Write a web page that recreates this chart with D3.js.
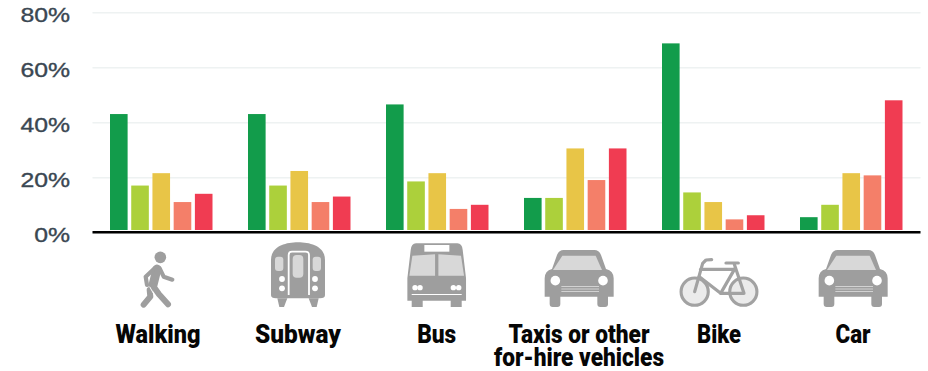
<!DOCTYPE html>
<html><head><meta charset="utf-8">
<script src="https://cdn.jsdelivr.net/npm/d3@7"></script>
<style>html,body{margin:0;padding:0;background:#fff}svg{display:block}</style>
</head><body><svg id="c" width="928" height="371"></svg>
<script>
const categories = ["Walking","Subway","Bus","Taxis or other for-hire vehicles","Bike","Car"];
const series = ["s1","s2","s3","s4","s5"];
const s1 = [43,43,46.5,12.5,68.7,5.5];
const s2 = [17,17,18.5,12.5,14.5,10];
const s3 = [21.5,22.3,21.5,30.5,11,21.5];
const s4 = [11,11,8.5,19,4.7,20.7];
const s5 = [14,13,10,30.5,6.2,48];
const seriesValues = [s1,s2,s3,s4,s5];
const colors = ["#129c4b","#acd03b","#e8c547","#f47f69","#f03c52"];
const yTicks = [0,20,40,60,80];
const labelLines = [["Walking"],["Subway"],["Bus"],["Taxis or other","for-hire vehicles"],["Bike"],["Car"]];
const labelWidths = [[85],[86],[39],[141,170],[44],[35]];
const iconCenters = [158,298,436.7,579,719,853];
const iconKinds = ["walk","subway","bus","car","bike","car"];

const svg = d3.select("#c");
const y = d3.scaleLinear().domain([0,80]).range([232.3,12.3]);
const x0 = d3.scaleBand().domain(categories).range([92.5,920.5]);
const x1 = d3.scaleBand().domain(series).range([17.5,120]).paddingInner(0.17);
const labelX = d3.scaleOrdinal().domain(categories).range(iconCenters);

const axis = svg.append("g").attr("transform","translate(92.5,0)")
  .call(d3.axisLeft(y).tickValues(yTicks).tickFormat(d=>d+"%").tickSize(-828));
axis.select(".domain").remove();
axis.selectAll("line").attr("stroke","#eef2f2").attr("stroke-width",1.5);
axis.selectAll("text")
  .attr("x",0).attr("dy",0)
  .attr("transform","translate(-22.5,9.4) scale(1.24,1)")
  .attr("text-anchor","end")
  .attr("fill","#3a4752").attr("stroke","#3a4752").attr("stroke-width",0.35)
  .style("font-family","'Liberation Sans',sans-serif").style("font-size","20px");

const groups = svg.append("g").selectAll("g").data(categories).join("g")
  .attr("transform",d=>`translate(${x0(d)},0)`);
groups.selectAll("rect")
  .data((d,i)=>series.map((s,j)=>({s,v:seriesValues[j][i],c:colors[j]})))
  .join("rect")
  .attr("x",d=>x1(d.s)).attr("width",x1.bandwidth())
  .attr("y",d=>y(d.v)).attr("height",d=>y(0)-2.3-y(d.v))
  .attr("fill",d=>d.c);

svg.append("line").attr("x1",92.5).attr("x2",920.5).attr("y1",y(0)).attr("y2",y(0))
  .attr("stroke","#000").attr("stroke-width",2.6);

// labels
const lab = svg.append("g").selectAll("g").data(categories).join("g")
  .attr("transform",d=>`translate(${labelX(d)},0)`);
lab.each(function(d,i){
  labelLines[i].forEach((t,k)=>{
    d3.select(this).append("text").text(t)
      .attr("y",343+k*23.2).attr("text-anchor","middle")
      .attr("textLength",labelWidths[i][k]).attr("lengthAdjust","spacingAndGlyphs")
      .attr("fill","#060606")
      .style("font-family","Roboto,sans-serif").style("font-weight",900).style("font-size","25px");
  });
});

// icons: each drawn around its own centre
const G="#9e9e9e", L="#d8d8d8", W="#fff";
const Y=z=>235+z/3;
const icons = {
 walk(g){
  const X=z=>(z-175)/3;
  const pl=(pts,w)=>g.append("path").attr("d",d3.line().x(p=>X(p[0])).y(p=>Y(p[1]))(pts))
    .attr("fill","none").attr("stroke",G).attr("stroke-width",w).attr("stroke-linecap","round").attr("stroke-linejoin","round");
  g.append("circle").attr("cx",X(182)).attr("cy",Y(67)).attr("r",5.8).attr("fill",G);
  pl([[172,102],[160,150]],9);
  pl([[165,100],[138,125],[142,150]],4.2);
  pl([[180,100],[192,125],[218,134]],4.2);
  pl([[162,155],[178,178],[205,208]],6);
  pl([[150,165],[152,185],[132,209]],6);
  g.append("path").attr("d",`M${X(150)},${Y(155)}L${X(165)},${Y(182)}`).attr("stroke",W).attr("stroke-width",1);
 },
 subway(g){
  const X=z=>(z-594)/3;
  const r=(a,b,c,d,f,rx=0)=>g.append("rect").attr("x",X(a)).attr("y",Y(b)).attr("width",(c-a)/3).attr("height",(d-b)/3).attr("fill",f).attr("rx",rx);
  const p=d3.path();
  p.moveTo(X(513),Y(180));p.lineTo(X(513),Y(75));
  p.bezierCurveTo(X(513),Y(35),X(555),Y(22),X(594),Y(22));
  p.bezierCurveTo(X(633),Y(22),X(675),Y(35),X(675),Y(75));
  p.lineTo(X(675),Y(180));p.quadraticCurveTo(X(675),Y(190),X(660),Y(190));
  p.lineTo(X(528),Y(190));p.quadraticCurveTo(X(513),Y(190),X(513),Y(180));p.closePath();
  g.append("path").attr("d",p.toString()).attr("fill",G);
  const leg=(a,b,c,d)=>g.append("path").attr("d",`M${X(a)},${Y(190)}L${X(b)},${Y(190)}L${X(c)},${Y(216)}L${X(d)},${Y(216)}Z`).attr("fill",G);
  leg(532,562,552,538);leg(626,656,650,636);
  r(525,65,550,108,L,3);r(638,65,663,108,L,3);
  g.append("path").attr("d",`M${X(566)},${Y(180)}L${X(566)},${Y(60)}Q${X(566)},${Y(50)},${X(576)},${Y(50)}L${X(616)},${Y(50)}Q${X(627)},${Y(50)},${X(627)},${Y(60)}L${X(627)},${Y(180)}`).attr("fill","none").attr("stroke",W).attr("stroke-width",1.8);
  r(578,60,610,128,L,4);
  [[546,132],[546,160],[645,132],[645,160]].forEach(c=>g.append("circle").attr("cx",X(c[0])).attr("cy",Y(c[1])).attr("r",2.9).attr("fill",W));
 },
 bus(g){
  const X=z=>(z-1010)/3;
  const r=(a,b,c,d,f,rx=0)=>g.append("rect").attr("x",X(a)).attr("y",Y(b)).attr("width",(c-a)/3).attr("height",(d-b)/3).attr("fill",f).attr("rx",rx);
  g.append("path").attr("d",`M${X(948)},${Y(25)}L${X(1072)},${Y(25)}Q${X(1086)},${Y(25)},${X(1088)},${Y(45)}L${X(1098)},${Y(130)}L${X(1098)},${Y(197)}L${X(922)},${Y(197)}L${X(922)},${Y(130)}L${X(932)},${Y(45)}Q${X(934)},${Y(25)},${X(948)},${Y(25)}Z`).attr("fill",G);
  r(935,195,968,216,G);r(1052,195,1085,216,G);
  r(973,30,1048,50,W);
  g.append("path").attr("d",`M${X(937)},${Y(62)}L${X(1005)},${Y(58)}L${X(1005)},${Y(122)}L${X(928)},${Y(122)}Z`).attr("fill",L);
  g.append("path").attr("d",`M${X(1015)},${Y(58)}L${X(1083)},${Y(62)}L${X(1092)},${Y(122)}L${X(1015)},${Y(122)}Z`).attr("fill",L);
  [945,960,1060,1076].forEach(c=>g.append("circle").attr("cx",X(c)).attr("cy",Y(158)).attr("r",2.7).attr("fill",W));
  r(935,177,1085,180,W);
 },
 car(g){
  const X=z=>(z-268)/3;
  const r=(a,b,c,d,f,rx=0)=>g.append("rect").attr("x",X(a)).attr("y",Y(b)).attr("width",(c-a)/3).attr("height",(d-b)/3).attr("fill",f).attr("rx",rx);
  r(180,170,212,216,G,3);r(323,170,355,216,G,3);
  g.append("path").attr("d",`M${X(222)},${Y(45)}L${X(314)},${Y(45)}Q${X(328)},${Y(45)},${X(334)},${Y(60)}L${X(349)},${Y(102)}Q${X(372)},${Y(108)},${X(372)},${Y(130)}L${X(372)},${Y(185)}L${X(165)},${Y(185)}L${X(165)},${Y(130)}Q${X(165)},${Y(108)},${X(187)},${Y(102)}L${X(202)},${Y(60)}Q${X(208)},${Y(45)},${X(222)},${Y(45)}Z`).attr("fill",G);
  g.append("path").attr("d",`M${X(218)},${Y(62)}L${X(318)},${Y(62)}L${X(337)},${Y(105)}L${X(190)},${Y(105)}Z`).attr("fill",L);
  [197,340].forEach(c=>g.append("circle").attr("cx",X(c)).attr("cy",Y(137)).attr("r",4.8).attr("fill",W));
  [155,162,170].forEach(v=>r(215,v-.8,328,v+.8,W));
 },
 bike(g){
  const X=z=>(z-687)/3;
  [614,760].forEach(c=>g.append("circle").attr("cx",X(c)).attr("cy",Y(170)).attr("r",13.6).attr("fill","#ebebeb").attr("stroke","#a2a2a2").attr("stroke-width",3.1));
  const pl=(pts,w)=>g.append("path").attr("d",d3.line().x(p=>X(p[0])).y(p=>Y(p[1]))(pts))
    .attr("fill","none").attr("stroke","#a2a2a2").attr("stroke-width",w).attr("stroke-linecap","round").attr("stroke-linejoin","round");
  pl([[614,170],[638,85],[648,75],[665,74]],3.2);
  pl([[632,103],[730,103]],3.2);
  pl([[628,125],[692,175],[762,175],[733,88]],3.2);
  pl([[692,175],[735,100]],3.2);
  pl([[708,84],[745,84]],3.2);
 }
};
svg.append("g").selectAll("g").data(categories).join("g")
  .attr("transform",d=>`translate(${labelX(d)},0)`)
  .each(function(d,i){ icons[iconKinds[i]](d3.select(this)); });
</script></body></html>
